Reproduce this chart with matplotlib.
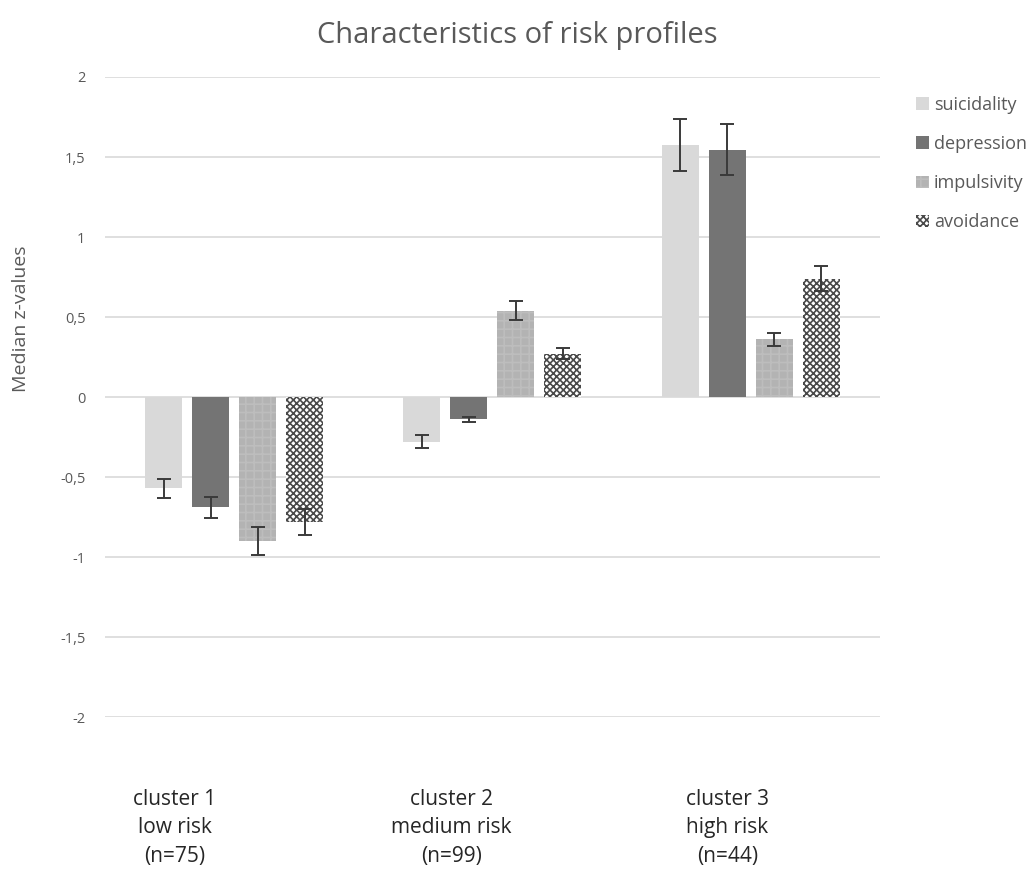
import numpy as np
import matplotlib.pyplot as plt

plt.rcParams['font.family'] = ['Open Sans', 'DejaVu Sans']
plt.rcParams['hatch.linewidth'] = 1.2

# Median z-values per cluster and their error bars
clusters = ['cluster 1\nlow risk\n(n=75)', 'cluster 2\nmedium risk\n(n=99)', 'cluster 3\nhigh risk\n(n=44)']
series = ['suicidality', 'depression', 'impulsivity', 'avoidance']
suicidality = [-0.57, -0.28, 1.575]
depression = [-0.69, -0.14, 1.545]
impulsivity = [-0.90, 0.54, 0.36]
avoidance = [-0.78, 0.27, 0.74]
suicidality_err = [0.06, 0.04, 0.16]
depression_err = [0.065, 0.015, 0.16]
impulsivity_err = [0.09, 0.06, 0.04]
avoidance_err = [0.08, 0.035, 0.08]
yticks = [-2, -1.5, -1, -0.5, 0, 0.5, 1, 1.5, 2]

values = [suicidality, depression, impulsivity, avoidance]
errors = [suicidality_err, depression_err, impulsivity_err, avoidance_err]
styles = [
    dict(color='#d9d9d9'),
    dict(color='#747474'),
    dict(facecolor='#b3b3b3', edgecolor='#bdbdbd', hatch='++'),
    dict(facecolor='white', edgecolor='#4a4a4a', hatch='xxxxx'),
]

fig = plt.figure(figsize=(10.34, 8.74), dpi=100)
ax = fig.add_axes([0.1015, 0.1796, 0.7495, 0.7323])

x = np.arange(len(clusters))
step = 0.182
width = 0.143
for i, (name, vals, errs, st) in enumerate(zip(series, values, errors, styles)):
    pos = x + (i - 1.5) * step
    ax.bar(pos, vals, width, label=name, linewidth=0, zorder=2, **st)
    ax.errorbar(pos, vals, yerr=errs, fmt='none', ecolor='#3a3a3a',
                elinewidth=1.4, capsize=5, capthick=1.4, zorder=3)

ax.set_xlim(-0.5, 2.5)
ax.set_ylim(-2, 2)
ax.set_yticks(yticks)
ax.set_yticklabels([f'{v:g}'.replace('.', ',') for v in yticks])
ax.tick_params(axis='y', length=0, pad=14, labelsize=10.5, labelcolor='#595959')
ax.tick_params(axis='x', length=0, pad=52, labelsize=15, labelcolor='#262626')
# category labels sit a little left of each bar group
ax.set_xticks(x + np.array([-0.23, -0.16, -0.09]))
ax.set_xticklabels(clusters, linespacing=1.45)
ax.grid(axis='y', color='#d9d9d9', linewidth=1.2, zorder=0)
for s in ax.spines.values():
    s.set_visible(False)

ax.set_ylabel('Median z-values', fontsize=14, color='#595959')
ax.yaxis.set_label_coords(-0.097, 0.623)
fig.text(0.5, 0.959, 'Characteristics of risk profiles', ha='center', va='center',
         fontsize=21, color='#595959')

fig.legend(loc='upper left', bbox_to_anchor=(916 / 1034, 1 - 96 / 874), frameon=False,
           fontsize=13, labelcolor='#595959', handlelength=0.7, handleheight=0.7,
           handletextpad=0.3, labelspacing=1.17, borderaxespad=0, borderpad=0)

fig.savefig('out.png', dpi=100)
